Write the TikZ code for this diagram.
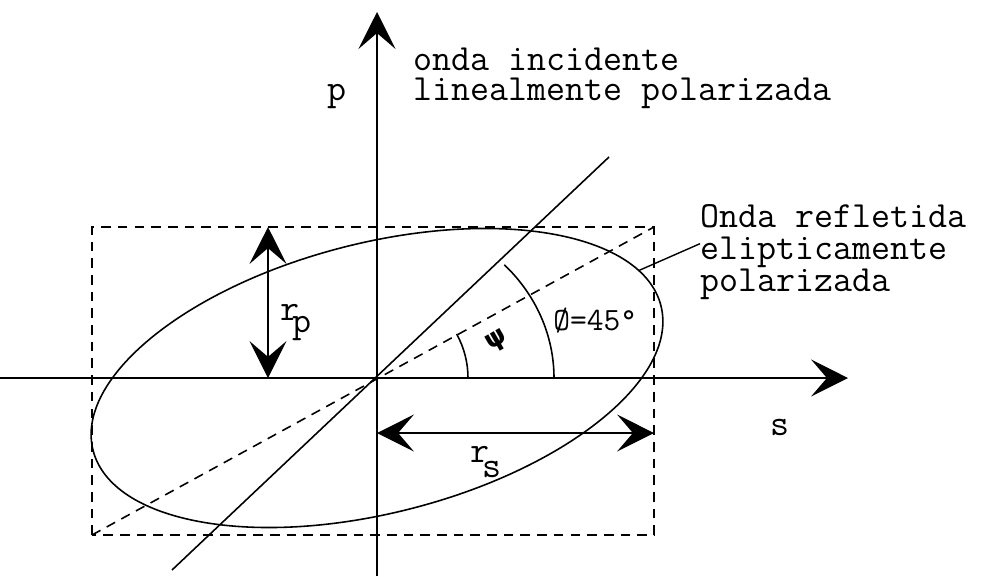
\documentclass[tikz,border=0pt]{standalone}
\usepackage{fontspec}
\newfontfamily\grkfont{DejaVu Sans}
\usetikzlibrary{arrows.meta,positioning,calc}
\tikzset{
  axisarrow/.style={-{Stealth[length=21pt, width=21pt, inset=9pt]}, line width=1.1pt},
  dimarrow/.style={{Stealth[length=21pt, width=21pt, inset=9pt]}-{Stealth[length=21pt, width=21pt, inset=9pt]}, line width=0.8pt},
  boxline/.style={dash pattern=on 5.5pt off 4pt, line width=0.9pt},
  wave/.style={line width=0.9pt},
  mtext/.style={font=\ttfamily\fontsize{21}{25}\selectfont, inner sep=0pt, anchor=base west},
  angtext/.style={font=\ttfamily\fontsize{18.5}{22}\selectfont, inner sep=0pt, anchor=base west}
}

\begin{document}
\begin{tikzpicture}[x=0.02cm, y=0.02cm]
\useasboundingbox (-377,-198) rectangle (626,378);

% axes
\coordinate (O) at (0,0);
\coordinate (xl) at (-377,0);
\coordinate (xr) at (471,0);
\coordinate (yb) at (0,-198);
\coordinate (yt) at (0,366);
\draw[axisarrow] (xl) -- (xr);
\draw[axisarrow] (yb) -- (yt);

% box and diagonals
\coordinate (bl) at (-285,-157);
\coordinate (tr) at (277,151);
\draw[boxline] (bl) rectangle (tr);
\draw[boxline] (bl) -- (tr);
\coordinate (dl) at (-205,-192);
\coordinate (du) at (232,221);
\draw[wave] (dl) -- (du);

% ellipse
\draw[wave, rotate=14.3] (O) ellipse [x radius=293, y radius=135];
\path[rotate=14.3] (O) ++(17:293 and 135) coordinate (lead);

% angles
\coordinate (a1) at (177,0);
\coordinate (a2) at (91,0);
\draw[wave] (a1) arc[start angle=0, end angle=44, x radius=177, y radius=163];
\draw[wave] (a2) arc[start angle=0, end angle=29, radius=91];
\node[rotate=30, font=\grkfont\bfseries\fontsize{15}{15}\selectfont, inner sep=0pt] (psi) at (120,37) {ψ};
\node[angtext] (phi) at (176,48) {Ø=45°};

% r_p and r_s
\coordinate (rp0) at (-109,0);
\coordinate (rp1) at (-109,151);
\draw[dimarrow] (rp0) -- (rp1);
\node[mtext] (rp) at (-97,58) {r\kern-4pt\raisebox{-7pt}{p}};
\coordinate (rs0) at (0,-55);
\coordinate (rs1) at (277,-55);
\draw[dimarrow] (rs0) -- (rs1);
\node[mtext] (rs) at (93,-84) {r\kern-4pt\raisebox{-9pt}{s}};

% labels
\node[mtext] (pl) at (-50,278) {p};
\node[mtext] (sl) at (393,-57) {s};
\node[mtext] (inc1) at (36,308) {onda incidente};
\node[mtext, below=0.62cm of inc1.base west, anchor=base west] (inc2) {linealmente polarizada};
\node[mtext] (ref1) at (323,151) {Onda refletida};
\node[mtext, below=0.65cm of ref1.base west, anchor=base west] (ref2) {elipticamente};
\node[mtext, below=0.65cm of ref2.base west, anchor=base west] (ref3) {polarizada};
\draw[line width=0.8pt] (lead) -- ([yshift=9pt]ref2.base west);
\end{tikzpicture}
\end{document}
